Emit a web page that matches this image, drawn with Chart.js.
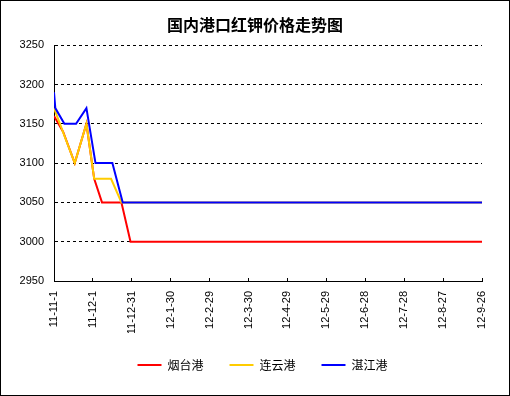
<!DOCTYPE html>
<html>
<head>
<meta charset="utf-8">
<script src="https://cdn.jsdelivr.net/npm/chart.js@4"></script>
<style>
body { margin: 0; background: #fff; }
#box { width: 510px; height: 396px; box-sizing: border-box; border: 1px solid #000; background: #fff; }
canvas { display: block; }
</style>
</head>
<body>
<div id="box"><canvas id="chart" width="508" height="394"></canvas></div>
<script>
// x axis: days since 2011-11-01, one label every 30 days
var tickLabels = ['11-11-1', '11-12-1', '11-12-31', '12-1-30', '12-2-29', '12-3-30',
    '12-4-29', '12-5-29', '12-6-28', '12-7-28', '12-8-27', '12-9-26'];

var yantaiDays = [0, 7, 16, 25, 31, 37, 52, 59, 330];
var yantaiPrices = [3160, 3140, 3100, 3150, 3080, 3050, 3050, 3000, 3000];

var lianyunDays = [0, 16, 25, 31, 44, 52, 330];
var lianyunPrices = [3170, 3100, 3150, 3080, 3080, 3050, 3050];

var zhanjiangDays = [0, 1, 8, 17, 25, 32, 45, 53, 330];
var zhanjiangPrices = [3190, 3170, 3150, 3150, 3170, 3100, 3100, 3050, 3050];

function toPoints(days, prices) {
    return days.map(function(d, i) {
        return { x: d, y: prices[i] };
    });
}

// title centred on the whole canvas, legend nudged right like the original
var shiftBoxes = {
    id: 'shiftBoxes',
    afterLayout: function(chart) {
        chart.titleBlock.left = 0;
        chart.titleBlock.right = 508;
        chart.legend.left += 21;
        chart.legend.right += 21;
    }
};

var tickFont = { family: '"Liberation Sans", Arial, sans-serif', size: 11 };

var chart = new Chart(document.getElementById('chart'), {
    type: 'line',
    data: {
        datasets: [{
            label: '烟台港',
            data: toPoints(yantaiDays, yantaiPrices),
            borderColor: '#ff0000',
            backgroundColor: '#ff0000',
            borderWidth: 2,
            order: 3
        }, {
            label: '连云港',
            data: toPoints(lianyunDays, lianyunPrices),
            borderColor: '#ffcc00',
            backgroundColor: '#ffcc00',
            borderWidth: 2,
            order: 2
        }, {
            label: '湛江港',
            data: toPoints(zhanjiangDays, zhanjiangPrices),
            borderColor: '#0000ff',
            backgroundColor: '#0000ff',
            borderWidth: 2,
            order: 1
        }]
    },
    plugins: [shiftBoxes],
    options: {
        responsive: false,
        animation: false,
        elements: {
            line: { tension: 0, fill: false },
            point: { radius: 0 }
        },
        layout: { padding: { left: 0, right: 27, top: 0, bottom: 14 } },
        plugins: {
            tooltip: { enabled: false },
            title: {
                display: true,
                text: '国内港口红钾价格走势图',
                color: '#000',
                font: { family: '"Noto Sans CJK SC", sans-serif', size: 16, weight: 'bold', lineHeight: 1.2 },
                padding: { top: 14, bottom: 11 }
            },
            legend: {
                position: 'bottom',
                labels: {
                    usePointStyle: true,
                    pointStyle: 'line',
                    pointStyleWidth: 24,
                    padding: 26,
                    color: '#000',
                    font: { family: '"Noto Sans CJK SC", sans-serif', size: 12 },
                    sort: function(a, b) { return a.datasetIndex - b.datasetIndex; }
                }
            }
        },
        scales: {
            x: {
                type: 'linear',
                min: 0,
                max: 330,
                afterFit: function(scale) { scale.height = 52; },
                ticks: {
                    stepSize: 30,
                    autoSkip: false,
                    minRotation: 90,
                    maxRotation: 90,
                    padding: 13,
                    color: '#000',
                    font: tickFont,
                    callback: function(v) { return tickLabels[Math.round(v / 30)]; }
                },
                grid: { drawOnChartArea: false, tickLength: -3, color: '#000' },
                border: { color: '#000' }
            },
            y: {
                min: 2950,
                max: 3250,
                afterFit: function(scale) { scale.width = 53; },
                ticks: {
                    stepSize: 50,
                    padding: 10,
                    color: '#000',
                    font: tickFont,
                    callback: function(v) { return String(v); }
                },
                grid: { color: '#000', drawTicks: false },
                border: { color: '#000', dash: [3, 3] }
            }
        }
    }
});
</script>
</body>
</html>
